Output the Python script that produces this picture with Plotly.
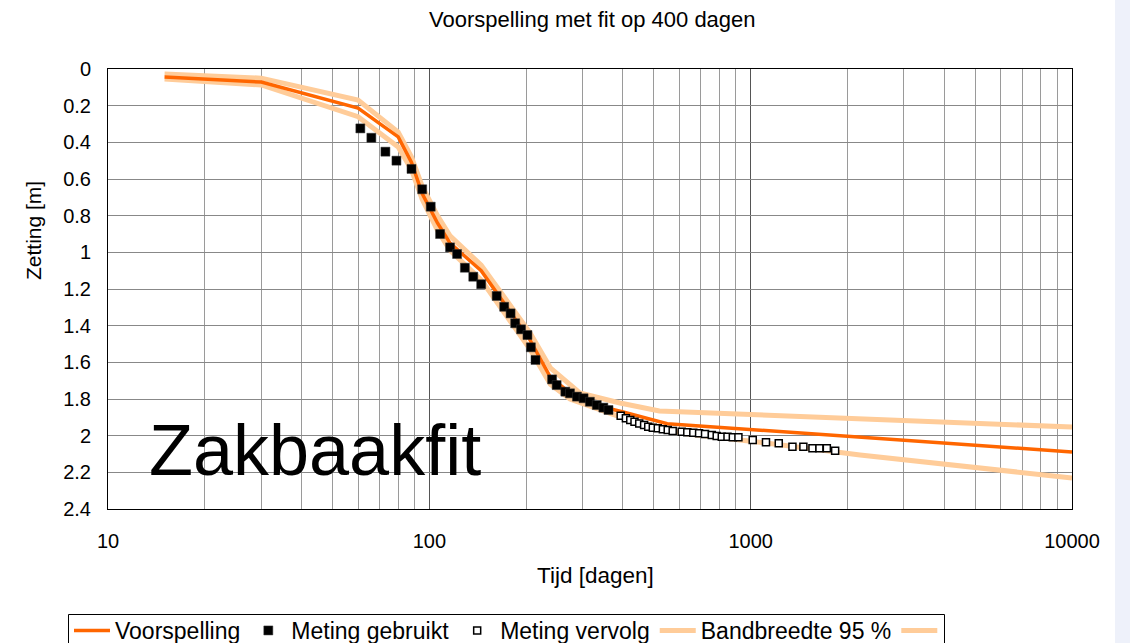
import plotly.graph_objects as go

# ---------------- data ----------------
pred_t = [15, 30, 60, 80, 88, 95, 106, 116, 145, 206, 238, 274, 347, 401, 550, 1000, 2000, 10000]
pred_z = [0.044, 0.071, 0.213, 0.37, 0.51, 0.68, 0.84, 0.95, 1.10, 1.48, 1.68, 1.767, 1.844, 1.871, 1.935, 1.966, 2.003, 2.089]

upper_t = [15, 30, 60, 80, 88, 95, 106, 116, 145, 206, 238, 294, 392, 520, 1000, 2000, 10000]
upper_z = [0.027, 0.05, 0.169, 0.344, 0.48, 0.64, 0.80, 0.91, 1.07, 1.44, 1.63, 1.767, 1.822, 1.865, 1.885, 1.905, 1.953]

lower_t = [15, 30, 60, 80, 88, 95, 106, 116, 145, 206, 238, 274, 392, 603, 1000, 2190, 10000]
lower_z = [0.055, 0.087, 0.26, 0.425, 0.55, 0.71, 0.88, 0.99, 1.15, 1.53, 1.72, 1.80, 1.898, 1.985, 2.03, 2.105, 2.231]

used_t = [61, 66, 73, 79, 88, 95, 101, 108, 116, 122, 129, 137, 145, 162, 171, 179, 185, 193,
          202, 207, 214, 241, 249, 265, 274, 288, 302, 316, 332, 348, 361]
used_z = [0.324, 0.375, 0.451, 0.500, 0.545, 0.656, 0.751, 0.900, 0.973, 1.009, 1.084, 1.133,
          1.174, 1.238, 1.297, 1.333, 1.387, 1.420, 1.451, 1.518, 1.587, 1.693, 1.724, 1.760,
          1.769, 1.787, 1.796, 1.815, 1.833, 1.847, 1.860]

next_t = [394, 409, 422, 435, 450, 466, 480, 496, 514, 533, 552, 572, 610, 635, 663, 691, 721,
          757, 784, 813, 847, 880, 916, 1015, 1116, 1223, 1349, 1459, 1557, 1637, 1726, 1832]
next_z = [1.891, 1.905, 1.915, 1.924, 1.933, 1.942, 1.951, 1.957, 1.960, 1.965, 1.969, 1.975,
          1.978, 1.982, 1.984, 1.987, 1.991, 1.996, 2.002, 2.006, 2.006, 2.009, 2.009, 2.024,
          2.036, 2.042, 2.060, 2.060, 2.069, 2.069, 2.069, 2.082]

x_ticks = [10, 100, 1000, 10000]
x_ticktext = ["10", "100", "1000", "10000"]
x_minor = [m * d for d in (10, 100, 1000) for m in range(2, 10)]

FONT = "Liberation Sans, Arial, sans-serif"
ORANGE = "#FF6600"
BAND = "#FFCC99"

fig = go.Figure()

fig.add_trace(go.Scatter(x=upper_t, y=upper_z, mode="lines", name="Bandbreedte 95 %",
                         line=dict(color=BAND, width=5), legendrank=4))
fig.add_trace(go.Scatter(x=lower_t, y=lower_z, mode="lines", name="",
                         line=dict(color=BAND, width=5), legendrank=5))
fig.add_trace(go.Scatter(x=pred_t, y=pred_z, mode="lines", name="Voorspelling",
                         line=dict(color=ORANGE, width=3.5), legendrank=1))
fig.add_trace(go.Scatter(x=used_t, y=used_z, mode="markers", name="Meting gebruikt",
                         marker=dict(symbol="square", size=9, color="black",
                                     line=dict(color="#333", width=0.5)), legendrank=2))
fig.add_trace(go.Scatter(x=next_t, y=next_z, mode="markers", name="Meting vervolg",
                         marker=dict(symbol="square", size=7, color="white",
                                     line=dict(color="black", width=1.5)), legendrank=3))

W, H = 1130, 643
L, R, T, B = 108, 58, 69, 134
pw, ph = W - L - R, H - T - B

def px(xp):
    return (xp - L) / pw

def py(yp):
    return (H - B - yp) / ph

fig.update_layout(
    width=W, height=H,
    margin=dict(l=L, r=R, t=T, b=B, pad=0, autoexpand=False),
    paper_bgcolor="#EEF1FA",
    plot_bgcolor="white",
    font=dict(family=FONT, size=21, color="black"),
    showlegend=True,
    legend=dict(orientation="h", x=px(69), y=py(609), xanchor="left", yanchor="top",
                bgcolor="rgba(0,0,0,0)", borderwidth=0,
                font=dict(family=FONT, size=23, color="black"),
                itemwidth=36, tracegroupgap=0),
    shapes=[
        dict(type="rect", xref="paper", yref="paper", x0=px(0), x1=px(1115),
             y0=py(H), y1=py(0), fillcolor="white", line=dict(width=0), layer="below"),
        dict(type="rect", xref="paper", yref="paper", x0=px(68.5), x1=px(944.5),
             y0=py(660), y1=py(614.5), fillcolor="white",
             line=dict(color="black", width=1), layer="below"),
    ],
    annotations=[
        dict(text="Voorspelling met fit op 400 dagen", xref="paper", yref="paper",
             x=px(592), y=py(19), xanchor="center", yanchor="middle", showarrow=False,
             font=dict(family=FONT, size=22, color="black")),
        dict(text="Tijd [dagen]", xref="paper", yref="paper",
             x=px(595), y=py(575), xanchor="center", yanchor="middle", showarrow=False,
             font=dict(family=FONT, size=22.5, color="black")),
        dict(text="Zetting [m]", xref="paper", yref="paper", textangle=-90,
             x=px(33), y=py(231), xanchor="center", yanchor="middle", showarrow=False,
             font=dict(family=FONT, size=21, color="black")),
        dict(text="Zakbaakfit", xref="paper", yref="paper",
             x=px(315), y=py(450), xanchor="center", yanchor="middle", showarrow=False,
             font=dict(family=FONT, size=72, color="black")),
    ],
)

fig.update_xaxes(type="log", range=[1, 4], tickvals=x_ticks, ticktext=x_ticktext,
                 showgrid=True, gridcolor="#555", gridwidth=1,
                 minor=dict(tickvals=x_minor, showgrid=True, gridcolor="#9a9a9a", gridwidth=1, ticks=""),
                 showline=True, linecolor="black", linewidth=1, mirror=True,
                 ticks="", ticklabelstandoff=14, zeroline=False,
                 tickfont=dict(family=FONT, size=20, color="black"))
fig.update_yaxes(range=[2.4, 0], tick0=0, dtick=0.2,
                 showgrid=True, gridcolor="#888", gridwidth=1,
                 showline=True, linecolor="black", linewidth=1, mirror=True,
                 ticks="", ticklabelstandoff=12, zeroline=False,
                 tickfont=dict(family=FONT, size=20, color="black"))

fig.write_html("out.html")
